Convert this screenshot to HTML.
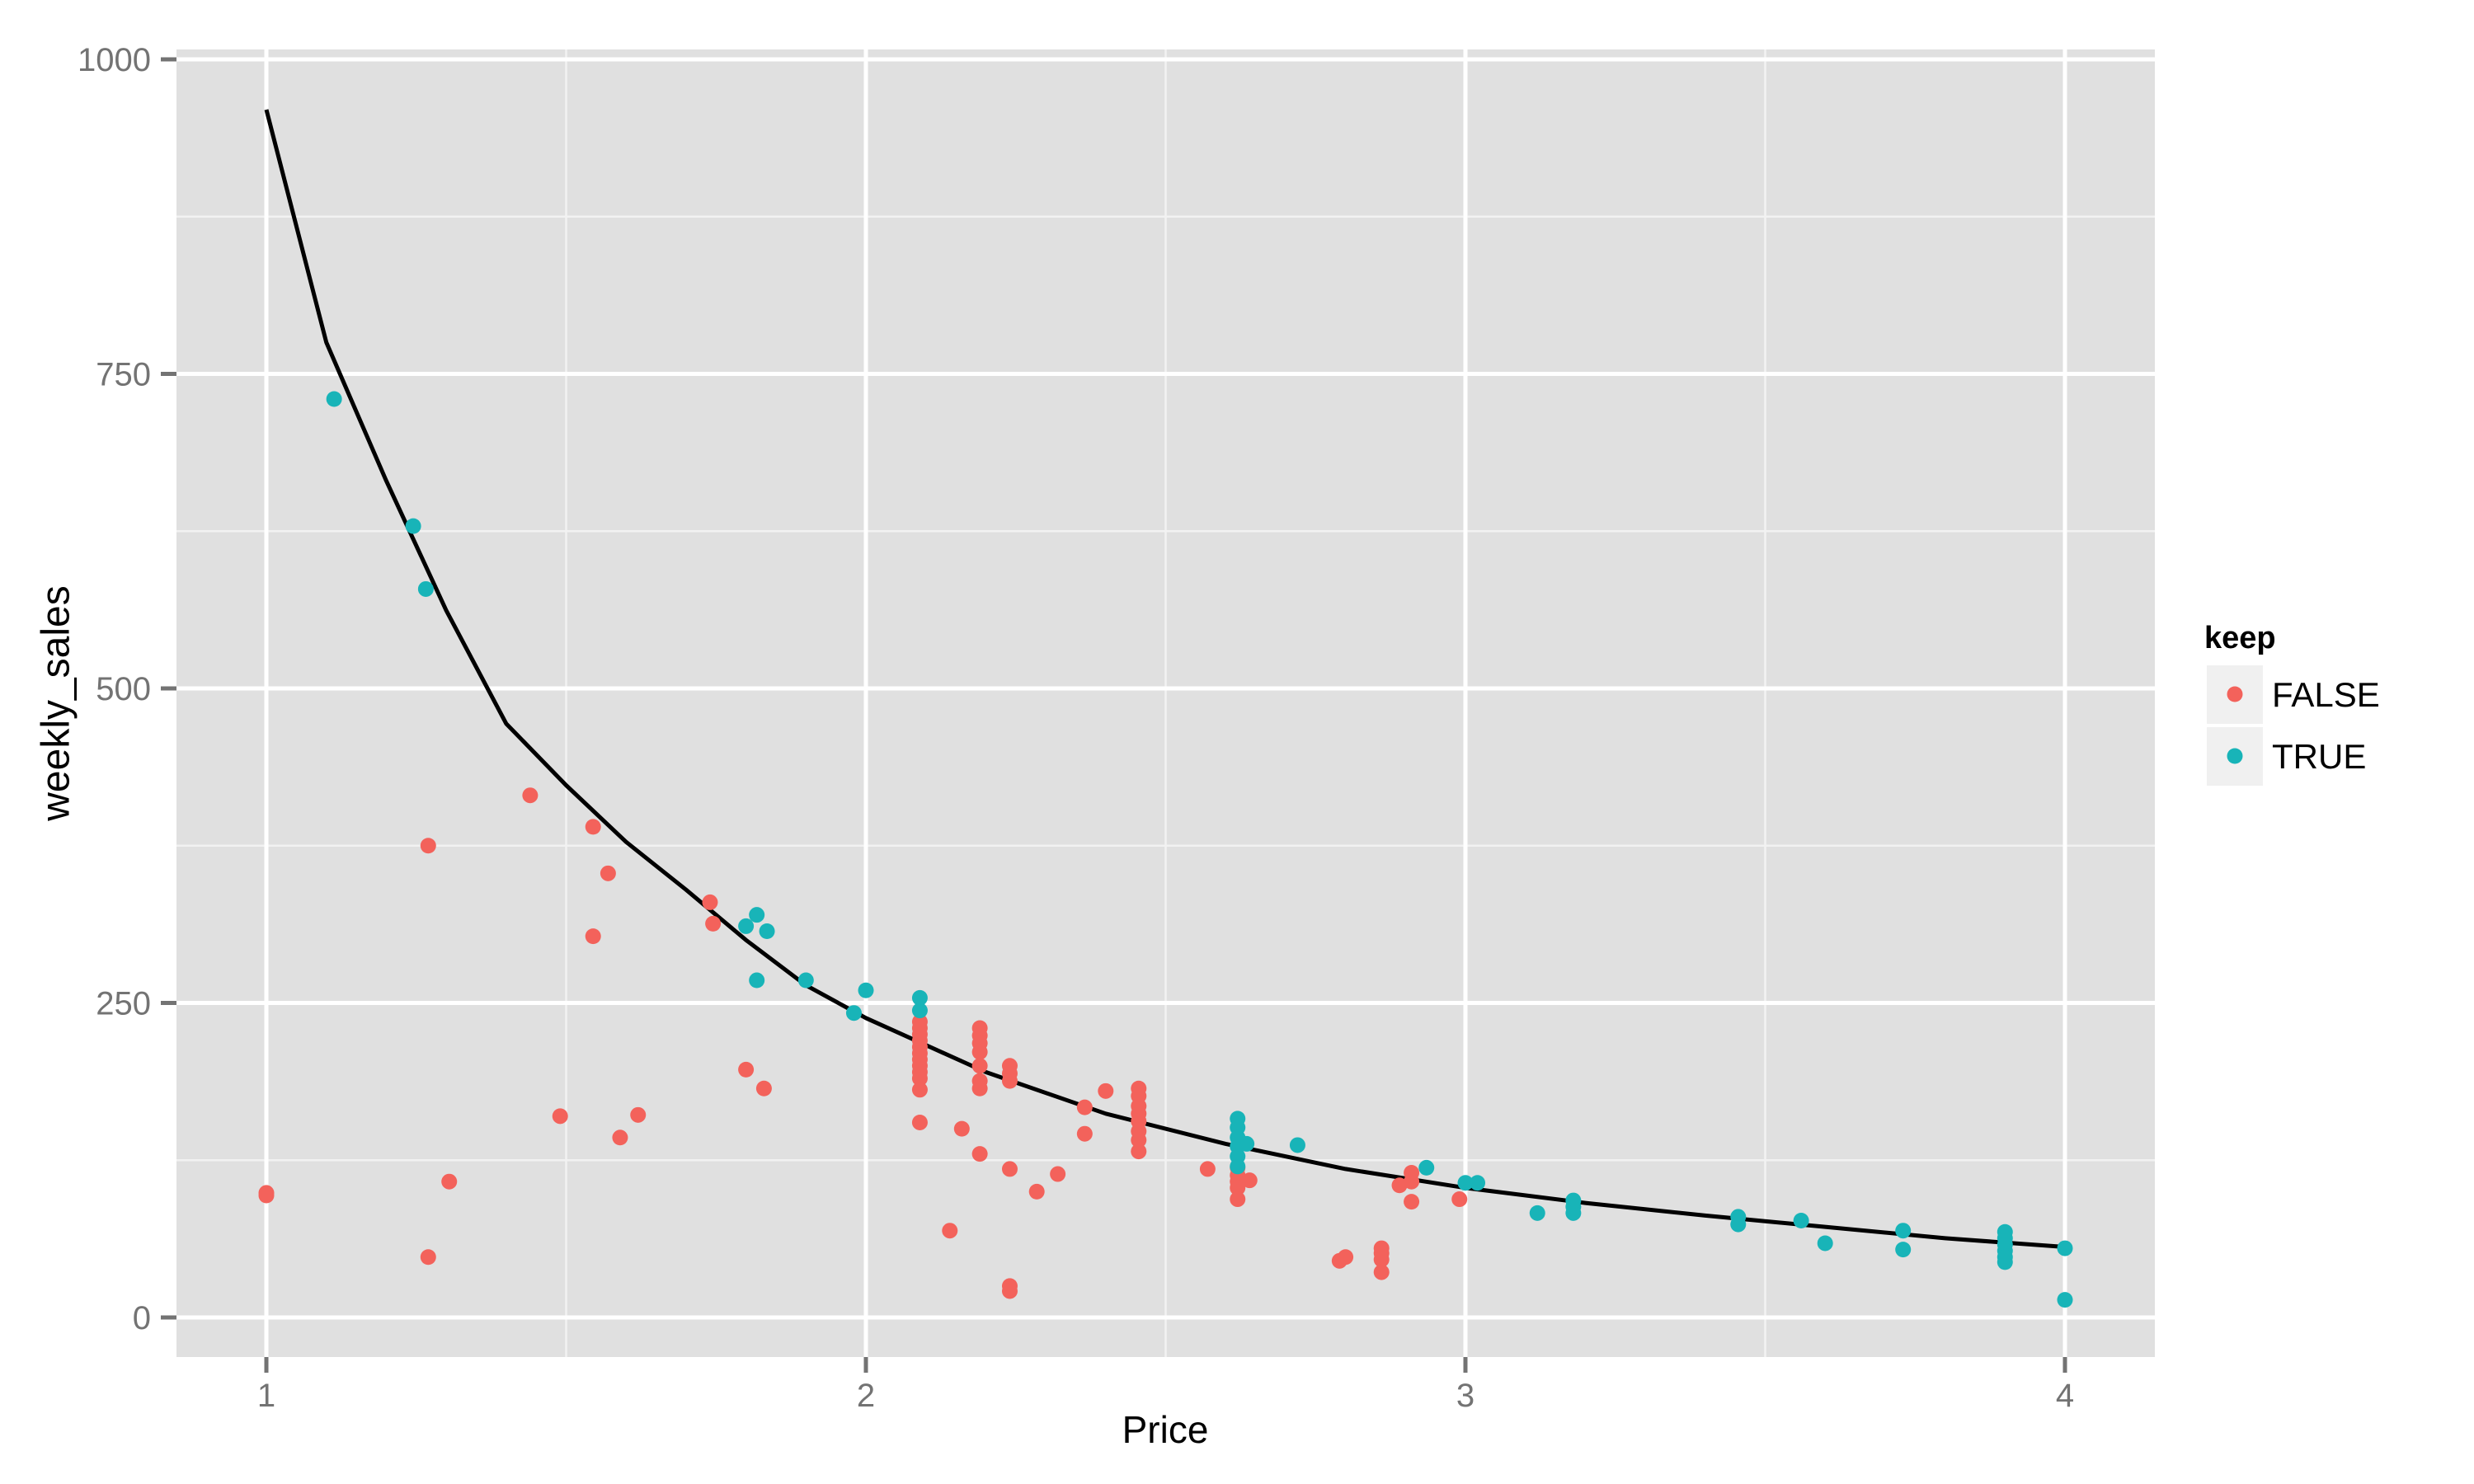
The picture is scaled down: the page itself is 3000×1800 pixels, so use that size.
<!DOCTYPE html>
<html><head><meta charset="utf-8"><style>
html,body{margin:0;padding:0;background:#fff;}
svg{display:block;font-family:"Liberation Sans",sans-serif;}
</style></head><body>
<svg id="chart" width="3000" height="1800" viewBox="0 0 3000 1800">
<rect x="0" y="0" width="3000" height="1800" fill="#fff"/>
<rect x="214" y="60" width="2399" height="1586" fill="#e0e0e0"/>
<g id="grid"></g>
<g id="curve"></g>
<g id="points"></g>
<g id="axes"></g>
<text x="68" y="853" transform="rotate(-90 68 853)" text-anchor="middle" dominant-baseline="central" font-size="48" fill="#000">weekly_sales</text>
<text x="1413" y="1750" text-anchor="middle" font-size="46" fill="#000">Price</text>
<g>
<text x="2673" y="786" font-size="38" font-weight="bold" fill="#000">keep</text>
<g>
<rect x="2676" y="807" width="68" height="71" fill="#f0f0f0"/>
<circle cx="2710" cy="842" r="9.5" fill="#f3625b"/>
<text x="2755" y="857" font-size="42" fill="#000">FALSE</text>
</g>
<g>
<rect x="2676" y="882" width="68" height="71" fill="#f0f0f0"/>
<circle cx="2710" cy="917" r="9.5" fill="#18b4b8"/>
<text x="2755" y="932" font-size="42" fill="#000">TRUE</text>
</g>
</g>
</svg>
<script>
const xTicks = [1, 2, 3, 4];
const xMinor = [1.5, 2.5, 3.5];
const yTicks = [0, 250, 500, 750, 1000];
const yMinor = [125, 375, 625, 875];
const falsePrice = [1.00,1.00,1.27,1.27,1.305,1.44,1.49,1.545,1.545,1.57,1.59,1.62,1.74,1.745,1.80,1.83,
 2.09,2.09,2.09,2.09,2.09,2.09,2.09,2.09,2.09,2.09,2.09,2.09,
 2.14,2.16,2.19,2.19,2.19,2.19,2.19,2.19,2.19,2.19,
 2.24,2.24,2.24,2.24,2.24,2.24,2.285,2.32,2.365,2.365,2.40,
 2.455,2.455,2.455,2.455,2.455,2.455,2.455,2.455,
 2.57,2.62,2.62,2.62,2.62,2.62,2.64,2.79,2.80,2.86,2.86,2.86,2.86,2.89,2.91,2.91,2.91,2.99];
const falseSales = [99,97,375,48,108,415,160,390,303,353,143,161,330,313,197,182,
 235,230,225,220,215,210,205,200,195,190,181,155,
 69,150,230,224,218,211,200,188,182,130,
 200,194,188,118,25,21,100,114,167,146,180,
 182,176,168,162,156,148,141,132,
 118,119,113,108,103,94,109,45,48,55,51,46,36,105,115,108,92,94];
const truePrice = [1.113,1.245,1.266,1.80,1.818,1.835,1.818,1.90,1.98,2.00,2.09,2.09,
 2.62,2.62,2.62,2.62,2.62,2.62,2.635,2.72,2.935,3.00,3.02,3.12,3.18,3.18,3.18,
 3.455,3.455,3.56,3.60,3.73,3.73,3.90,3.90,3.90,3.90,3.90,3.90,4.00,4.00];
const trueSales = [730,629,579,311,320,307,268,268,242,260,254,244,
 158,151,143,136,128,120,138,137,119,107,107,83,93,88,83,
 80,74,77,59,69,54,68,63,58,53,48,44,55,14];
const curvePrice = [1.0,1.1,1.2,1.3,1.4,1.5,1.6,1.7,1.8,1.9,2.0,2.2,2.4,2.6,2.8,3.0,3.2,3.4,3.6,3.8,4.0];
const curveSales = [960,775,665,562,472,423,378,340,300,264,238,195,162,138,118,103,91,81,72,63,56];

const NS = "http://www.w3.org/2000/svg";
const X = p => 323 + (p - 1) * 727;
const Y = v => 1598 - v * 1.526;
function mk(tag, attrs, parent) {
  const e = document.createElementNS(NS, tag);
  for (const k in attrs) e.setAttribute(k, attrs[k]);
  parent.appendChild(e);
  return e;
}
const grid = document.getElementById('grid');
xMinor.forEach(t => {
  const l = mk('line', {x1: X(t), x2: X(t), y1: 60, y2: 1646, stroke: '#f2f2f2', 'stroke-width': 2.5}, grid);
  
  
});
yMinor.forEach(t => {
  const l = mk('line', {x1: 214, x2: 2613, y1: Y(t), y2: Y(t), stroke: '#f2f2f2', 'stroke-width': 2.5}, grid);
  
  
});
xTicks.forEach(t => {
  const l = mk('line', {x1: X(t), x2: X(t), y1: 60, y2: 1646, stroke: '#fff', 'stroke-width': 5}, grid);
  
  
});
yTicks.forEach(t => {
  const l = mk('line', {x1: 214, x2: 2613, y1: Y(t), y2: Y(t), stroke: '#fff', 'stroke-width': 5}, grid);
  
  
});
const axes = document.getElementById('axes');
xTicks.forEach(t => {
  const tk = mk('line', {x1: X(t), x2: X(t), y1: 1646, y2: 1665, stroke: '#737373', 'stroke-width': 5}, axes);
  
  
  const tx = mk('text', {x: X(t), y: 1706, 'text-anchor': 'middle', 'font-size': 40, fill: '#737373'}, axes);
  tx.textContent = String(t);
  
  
});
yTicks.forEach(t => {
  const tk = mk('line', {x1: 195, x2: 214, y1: Y(t), y2: Y(t), stroke: '#737373', 'stroke-width': 5}, axes);
  
  
  const tx = mk('text', {x: 183, y: Y(t) + 14, 'text-anchor': 'end', 'font-size': 40, fill: '#737373'}, axes);
  tx.textContent = String(t);
  
  
});
const pts = document.getElementById('points');
falsePrice.forEach((p, i) => {
  const c = mk('circle', {cx: X(p), cy: Y(falseSales[i]), r: 9.5, fill: '#f3625b'}, pts);
  
  
});
truePrice.forEach((p, i) => {
  const c = mk('circle', {cx: X(p), cy: Y(trueSales[i]), r: 9.5, fill: '#18b4b8'}, pts);
  
  
});
const cg = document.getElementById('curve');
const d = curvePrice.map((p, i) => (i ? 'L' : 'M') + X(p).toFixed(1) + ' ' + Y(curveSales[i]).toFixed(1)).join(' ');
const path = mk('path', {d: d, fill: 'none', stroke: '#000', 'stroke-width': 5, 'stroke-linejoin': 'round'}, cg);


document.getElementById('chart').appendChild(pts);
</script>
</body></html>
